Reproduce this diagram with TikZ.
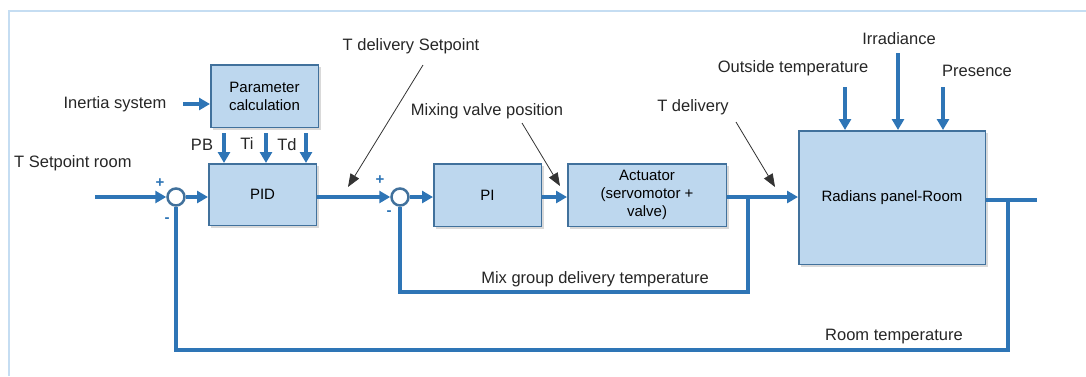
\documentclass[tikz,border=0pt]{standalone}
\usepackage{fontspec}
\setmainfont{Liberation Sans}
\usetikzlibrary{arrows.meta,positioning,shadows}
\definecolor{sigblue}{RGB}{46,117,182}
\definecolor{boxfill}{RGB}{189,215,238}
\definecolor{boxline}{RGB}{65,113,156}
\definecolor{framecol}{RGB}{197,221,242}
\tikzstyle{block}=[draw=boxline,fill=boxfill,line width=1.5pt,align=center,inner sep=0pt,font=\fontsize{15}{18}\selectfont,drop shadow={shadow xshift=2.5pt,shadow yshift=-2.5pt,opacity=0.3}]
\tikzstyle{sumnode}=[circle,draw=boxline,fill=white,line width=2.5pt,minimum size=17pt,inner sep=0pt]
\tikzstyle{sig}=[color=sigblue,line width=3.8pt]
\tikzstyle{sigarrow}=[sig,-{Triangle[length=11pt,width=12pt]}]
\tikzstyle{note}=[color=black!80,line width=0.8pt,-{Triangle[length=13pt,width=10pt]}]
\tikzstyle{lbl}=[font=\fontsize{16.5}{19}\selectfont,text=black!85,inner sep=0pt]
\tikzstyle{sign}=[font=\fontsize{15}{15}\selectfont\bfseries,text=sigblue,inner sep=0pt]

\begin{document}
\begin{tikzpicture}[x=1pt,y=-1pt]
\useasboundingbox (0,0) rectangle (1086,376);
\draw[framecol,line width=1.5pt] (9,376) -- (9,11) -- (1086,11);

\node[block,minimum width=107.5pt,minimum height=62.5pt] (param) at (264.5,96) {Parameter\\calculation};
\node[block,minimum width=107.5pt,minimum height=61.5pt] (pid) at (262.5,194.5) {PID};
\node[block,minimum width=107.5pt,minimum height=62.5pt] (pi) at (487.5,195) {PI};
\node[block,minimum width=158.5pt,minimum height=62.5pt] (act) at (647,195) {Actuator\\(servomotor +\\valve)};
\node[block,minimum width=186.5pt,minimum height=133.5pt] (panel) at (892,197.5) {Radians panel-Room};
\node[sumnode] (sum1) at (176,197) {};
\node[sumnode] (sum2) at (400,197) {};

\node[sign] (p1) at (160,183) {+};
\node[sign] (m1) at (167,220) {-};
\node[sign] (p2) at (380,180) {+};
\node[sign] (m2) at (389,213) {-};

\node[lbl,anchor=west] (tsr) at (14,163) {T Setpoint room};
\node[lbl] (inert) at (115,104) {Inertia system};
\node[lbl] (pbl) at (202,145) {PB};
\node[lbl] (til) at (247,144) {Ti};
\node[lbl] (tdl) at (287,145) {Td};
\node[lbl] (tdsl) at (411,46) {T delivery Setpoint};
\node[lbl] (mvpl) at (487,111) {Mixing valve position};
\node[lbl] (tdel) at (693,107) {T delivery};
\node[lbl] (outl) at (793,68) {Outside temperature};
\node[lbl] (irrl) at (899,39) {Irradiance};
\node[lbl] (presl) at (977,71) {Presence};
\node[lbl] (mixl) at (595,279) {Mix group delivery temperature};
\node[lbl] (rooml) at (894,337) {Room temperature};

\coordinate (in) at (95,197);
\coordinate (out) at (1037,200);
\coordinate (jin) at (748,197);
\coordinate (jout) at (1008,200);
\coordinate (inin) at (183,104);
\coordinate (pb) at (224,133);
\coordinate (ti) at (266,133);
\coordinate (td) at (306,133);
\coordinate (outt) at (845,87);
\coordinate (irr) at (898,53);
\coordinate (pres) at (943,87);

\path[sigarrow]
(in) edge (sum1.west)
(sum1.east) edge (sum1 -| pid.west)
(sum1 -| pid.east) edge (sum2.west)
(sum2.east) edge (sum2 -| pi.west)
(sum2 -| pi.east) edge (sum2 -| act.west)
(sum2 -| act.east) edge (sum2 -| panel.west)
(inin) edge (inin -| param.west)
(pb) edge (pb |- pid.north)
(ti) edge (ti |- pid.north)
(td) edge (td |- pid.north)
(outt) edge (outt |- panel.north)
(irr) edge (irr |- panel.north)
(pres) edge (pres |- panel.north);

\draw[sig] (out -| panel.east) -- (out);
\draw[sig] (jin) -- (jin |- 0,292) -| (sum2.south);
\draw[sig] (jout) -- (jout |- 0,350) -| (sum1.south);

\coordinate (tdsa) at (423,65);
\coordinate (tdsb) at (348,187);
\coordinate (mvpa) at (522,123);
\coordinate (mvpb) at (560,186);
\coordinate (tdea) at (736,122);
\coordinate (tdeb) at (775,187);
\path[note]
(tdsa) edge (tdsb)
(mvpa) edge (mvpb)
(tdea) edge (tdeb);
\end{tikzpicture}
\end{document}
